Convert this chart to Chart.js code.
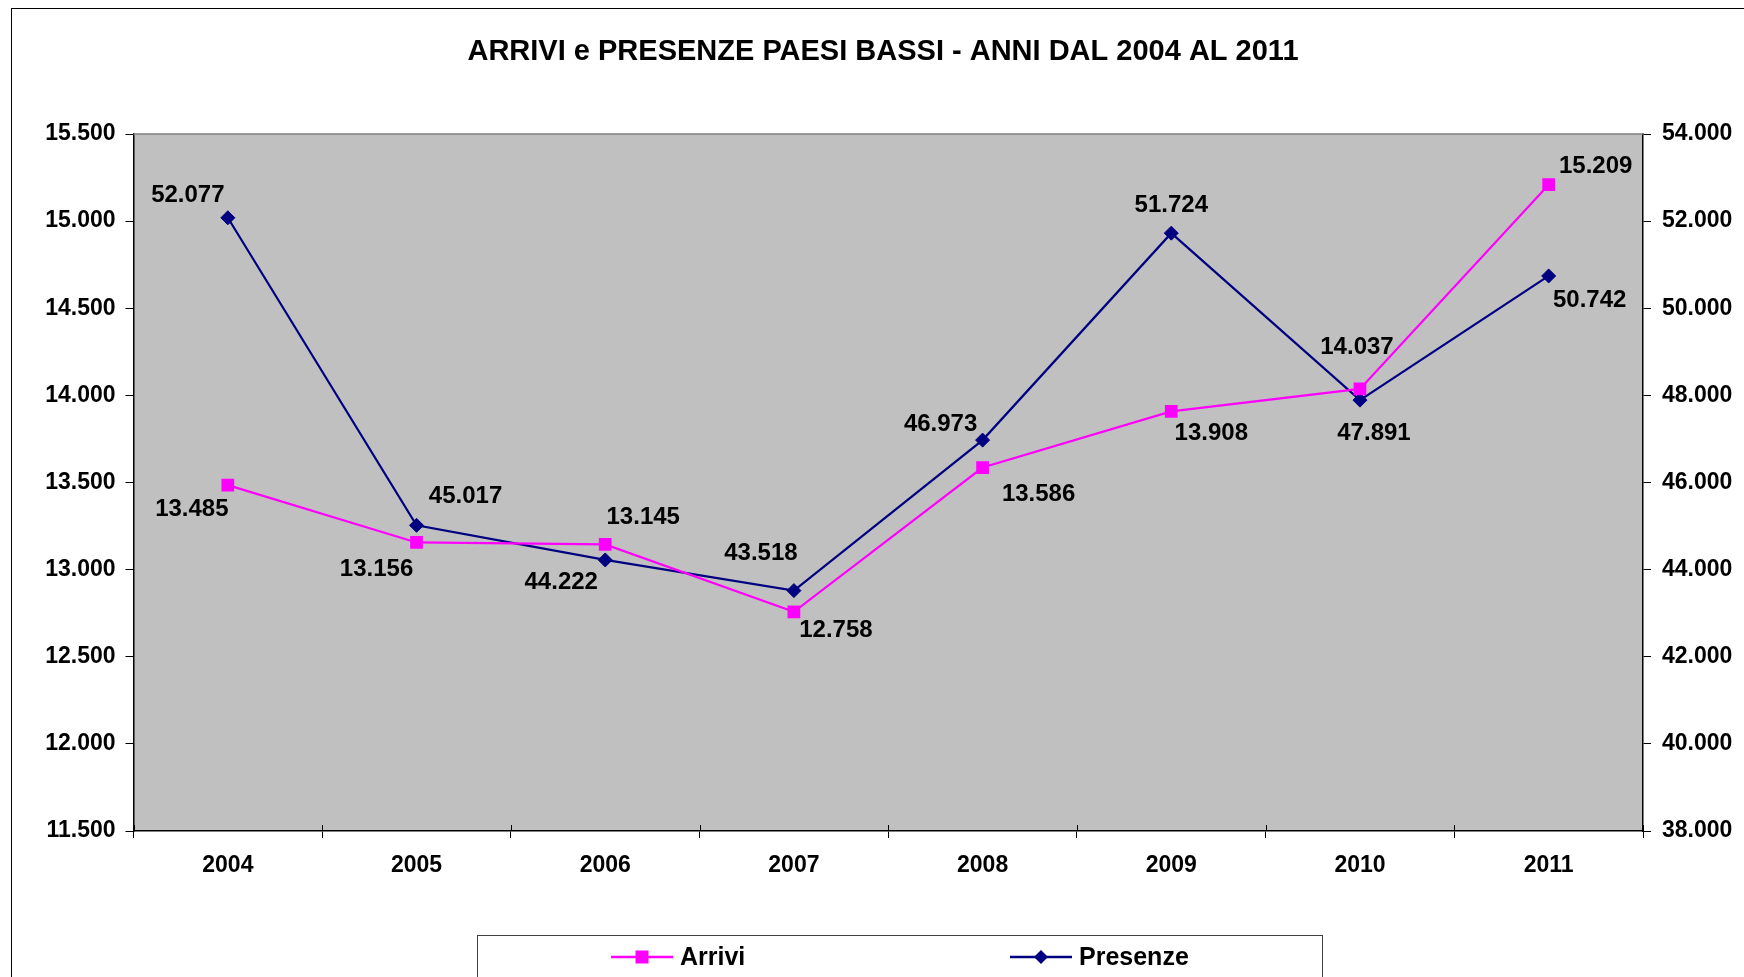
<!DOCTYPE html>
<html>
<head>
<meta charset="utf-8">
<script src="https://cdn.jsdelivr.net/npm/chart.js@4/dist/chart.umd.min.js"></script>
<style>
  html, body { margin: 0; padding: 0; background: #fff; overflow: hidden; }
  #wrap { width: 1744px; height: 977px; position: relative; }
</style>
</head>
<body>
<div id="wrap"><canvas id="chart"></canvas></div>
<script>
// Dati
const anni = ['2004', '2005', '2006', '2007', '2008', '2009', '2010', '2011'];
const arrivi = [13485, 13156, 13145, 12758, 13586, 13908, 14037, 15209];
const presenze = [52077, 45017, 44222, 43518, 46973, 51724, 47891, 50742];

// Spostamento delle etichette rispetto al punto (px)
const offArrivi = [[-36, 24], [-40, 27], [38, -27], [42, 19], [56, 27], [40, 22], [-3, -42], [47, -18]];
const offPresenze = [[-40, -22], [49, -29], [-44, 22], [-33, -37], [-42, -16], [0, -28], [14, 33], [41, 24]];

const COLORS = {
    arrivi: '#FF00FF',
    presenze: '#000080',
    plot: '#C0C0C0',
    frame: '#808080',
    text: '#000000',
};
const FONT = '"Liberation Sans", Arial, sans-serif';

const fmt = (v) => String(Math.round(v)).replace(/\B(?=(\d{3})+(?!\d))/g, '.');

// Sfondo, cornice, titolo e legenda
const framePlugin = {
    id: 'frame',
    beforeDraw(chart) {
        const { ctx, chartArea: a } = chart;
        ctx.save();
        ctx.fillStyle = '#fff';
        ctx.fillRect(0, 0, chart.width, chart.height);
        ctx.strokeStyle = '#000';
        ctx.lineWidth = 1;
        ctx.strokeRect(11.5, 8.5, chart.width + 20, chart.height + 20);
        ctx.fillStyle = COLORS.plot;
        ctx.fillRect(a.left, a.top, a.right - a.left, a.bottom - a.top);
        ctx.restore();
    },
    afterDraw(chart) {
        const { ctx, chartArea: a } = chart;
        const xs = chart.scales.x;
        ctx.save();
        // bordo superiore area del tracciato
        ctx.strokeStyle = COLORS.frame;
        ctx.lineWidth = 1.5;
        ctx.beginPath();
        ctx.moveTo(a.left, a.top);
        ctx.lineTo(a.right, a.top);
        ctx.stroke();

        // tacche interne sull'asse x
        const step = xs.getPixelForTick(1) - xs.getPixelForTick(0);
        ctx.strokeStyle = '#000';
        ctx.lineWidth = 1;
        ctx.beginPath();
        for (let i = 0; i <= anni.length; i++) {
            const x = Math.round(xs.getPixelForTick(0) - step / 2 + i * step) + 0.5;
            ctx.moveTo(x, a.bottom);
            ctx.lineTo(x, a.bottom - 6);
        }
        ctx.stroke();

        // titolo
        ctx.fillStyle = COLORS.text;
        ctx.font = 'bold 29px ' + FONT;
        ctx.textAlign = 'center';
        ctx.textBaseline = 'middle';
        ctx.fillText('ARRIVI e PRESENZE PAESI BASSI - ANNI DAL 2004 AL 2011', 883, 52);

        // legenda
        ctx.strokeStyle = '#404040';
        ctx.lineWidth = 1;
        ctx.strokeRect(477.5, 935.5, 845, 60);
        const ly = 957;
        const items = [
            { label: 'Arrivi', color: COLORS.arrivi, x: 611, style: 'rect' },
            { label: 'Presenze', color: COLORS.presenze, x: 1010, style: 'diamond' },
        ];
        items.forEach((it) => {
            ctx.strokeStyle = it.color;
            ctx.lineWidth = 2.5;
            ctx.beginPath();
            ctx.moveTo(it.x, ly);
            ctx.lineTo(it.x + 62, ly);
            ctx.stroke();
            ctx.fillStyle = it.color;
            const cx = it.x + 31;
            if (it.style === 'rect') {
                ctx.fillRect(cx - 6.5, ly - 6.5, 13, 13);
            } else {
                ctx.beginPath();
                ctx.moveTo(cx - 7, ly);
                ctx.lineTo(cx, ly - 7);
                ctx.lineTo(cx + 7, ly);
                ctx.lineTo(cx, ly + 7);
                ctx.closePath();
                ctx.fill();
            }
            ctx.fillStyle = COLORS.text;
            ctx.font = 'bold 25px ' + FONT;
            ctx.textAlign = 'left';
            ctx.fillText(it.label, it.x + 69, ly + 1);
        });
        ctx.restore();
    }
};

// Etichette dei valori
const valueLabels = {
    id: 'valueLabels',
    afterDatasetsDraw(chart) {
        const ctx = chart.ctx;
        const offsets = [offArrivi, offPresenze];
        ctx.save();
        ctx.font = 'bold 24px ' + FONT;
        ctx.fillStyle = COLORS.text;
        ctx.textAlign = 'center';
        ctx.textBaseline = 'middle';
        chart.data.datasets.forEach((ds, i) => {
            const meta = chart.getDatasetMeta(i);
            meta.data.forEach((pt, j) => {
                ctx.fillText(fmt(ds.data[j]), pt.x + offsets[i][j][0], pt.y + offsets[i][j][1]);
            });
        });
        ctx.restore();
    }
};

const tickFont = { family: FONT, size: 23, weight: 'bold' };

new Chart(document.getElementById('chart'), {
    type: 'line',
    data: {
        labels: anni,
        datasets: [
            {
                label: 'Arrivi',
                data: arrivi,
                yAxisID: 'y',
                borderColor: COLORS.arrivi,
                backgroundColor: COLORS.arrivi,
                borderWidth: 2.2,
                pointStyle: 'rect',
                pointRadius: 9,
                pointBorderWidth: 0,
                tension: 0,
            },
            {
                label: 'Presenze',
                data: presenze,
                yAxisID: 'y1',
                borderColor: COLORS.presenze,
                backgroundColor: COLORS.presenze,
                borderWidth: 2.2,
                pointStyle: 'rectRot',
                pointRadius: 7,
                pointBorderWidth: 1,
                tension: 0,
            }
        ]
    },
    options: {
        responsive: true,
        maintainAspectRatio: false,
        animation: false,
        layout: { padding: { top: 134, left: 0, right: 0, bottom: 0 } },
        plugins: {
            legend: { display: false },
            title: { display: false },
            tooltip: { enabled: false },
        },
        scales: {
            x: {
                offset: true,
                grid: { display: true, drawOnChartArea: false, offset: true, tickLength: 7, color: '#000' },
                border: { display: true, color: '#000', width: 1.5 },
                ticks: { color: COLORS.text, font: tickFont, padding: 14, maxRotation: 0 },
                afterFit: (s) => { s.height = 146; },
            },
            y: {
                position: 'left',
                min: 11500,
                max: 15500,
                grid: { display: true, drawOnChartArea: false, tickLength: 8, color: '#000' },
                border: { display: true, color: '#000', width: 1.5 },
                ticks: { stepSize: 500, color: COLORS.text, font: tickFont, padding: 10, callback: (v) => fmt(v) },
                afterFit: (s) => { s.width = 133.5; },
            },
            y1: {
                position: 'right',
                min: 38000,
                max: 54000,
                grid: { display: true, drawOnChartArea: false, tickLength: 8, color: '#000' },
                border: { display: true, color: '#000', width: 1.5 },
                ticks: { stepSize: 2000, color: COLORS.text, font: tickFont, padding: 11, callback: (v) => fmt(v) },
                afterFit: (s) => { s.width = 101; },
            }
        }
    },
    plugins: [framePlugin, valueLabels]
});
</script>
</body>
</html>
